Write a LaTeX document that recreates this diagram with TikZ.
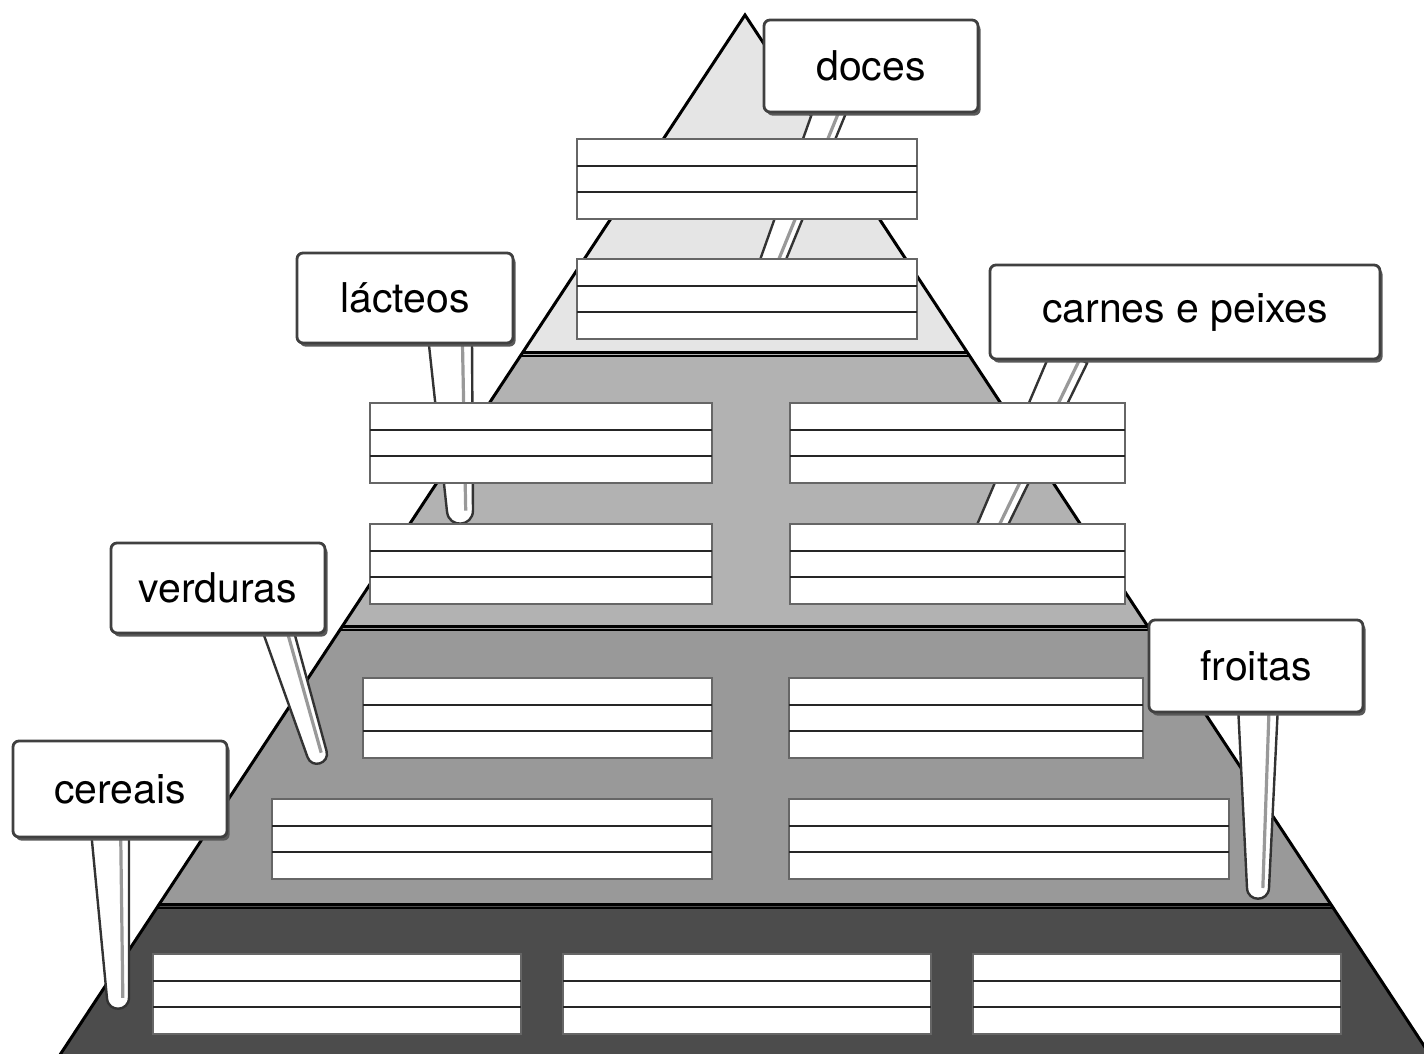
\documentclass[tikz,border=0pt]{standalone}
\usepackage{fontspec}
\setmainfont{TeX Gyre Heros}
\usetikzlibrary{calc,shadows}
\definecolor{tierA}{gray}{0.9}
\definecolor{tierB}{gray}{0.7}
\definecolor{tierC}{gray}{0.6}
\definecolor{tierD}{gray}{0.3}
\tikzset{
  signboard/.style={fill=white, draw=black!75, line width=1.4pt, rounded corners=3pt,
    minimum height=46pt, inner sep=0pt, font=\fontsize{20.5}{24}\selectfont,
    drop shadow={opacity=1, fill=black!65, shadow xshift=1.3pt, shadow yshift=-1.8pt}},
  rowbox/.style={draw=black!60, line width=0.8pt, fill=white},
  rowline/.style={draw=black!85, line width=0.6pt},
  stakeline/.style={draw=black!80, line width=1.2pt, fill=white, line join=round},
  stakeshade/.style={draw=black!40, line width=1.6pt}
}
% #1 name, #2 top, #3 bottom, #4 half width at top, #5 half width at bottom
\newcommand\stake[5]{
  \coordinate (#1-1) at ($(#2)!#4!90:(#3)$);
  \coordinate (#1-2) at ($(#3)!#5!-90:(#2)$);
  \coordinate (#1-3) at ($(#3)!#5!90:(#2)$);
  \coordinate (#1-4) at ($(#2)!#4!-90:(#3)$);
  \draw[stakeline] (#1-1) -- (#1-2) .. controls ($(#1-2)!-1.3*#5!(#1-1)$) and ($(#1-3)!-1.3*#5!(#1-4)$) .. (#1-3) -- (#1-4) -- cycle;
  \draw[stakeshade] ($(#1-1)!0.22!(#1-4)$) -- ($(#1-2)!0.28!(#1-3)$);
}
\begin{document}
\begin{tikzpicture}[x=0.5pt, y=-0.5pt]
    \useasboundingbox (0,0) rectangle (1424,1054);
    \coordinate (apex) at (745,15);
    \coordinate (baseL) at (50,1070);
    \coordinate (baseR) at (1440,1070);
    \begin{scope}
        \clip (apex) -- (baseL) -- (baseR) -- cycle;
        \fill[tierA] (0,0) rectangle (1440,352);
        \fill[tierB] (0,352) rectangle (1440,626);
        \fill[tierC] (0,626) rectangle (1440,904);
        \fill[tierD] (0,904) rectangle (1440,1070);
        \foreach \y in {352,626,904}
            {
                \draw[line width=1.5pt] (0,\y)--(1440,\y);
                \draw[line width=1pt] (0,\y+4)--(1440,\y+4);
            }
    \end{scope}
    \draw[line width=1.5pt, line join=miter] (baseL)--(apex)--(baseR);

    \stake{sdoces}{832,105}{772,262}{8pt}{6pt}
    \stake{slacteos}{450,335}{460,511}{11pt}{6.5pt}
    \stake{scarnes}{1070,355}{990,530}{9.5pt}{7pt}
    \stake{sverduras}{278,630}{317,754}{7.5pt}{5pt}
    \stake{sfroitas}{1258,705}{1258,888}{10pt}{5.5pt}
    \stake{scereais}{110,830}{118,998}{9.5pt}{5.5pt}

    \foreach \xa/\xb/\ya in {577/917/139, 577/917/259, 370/712/403, 790/1125/403,
        370/712/524, 790/1125/524, 363/712/678, 789/1143/678, 272/712/799,
        789/1229/799, 153/521/954, 563/931/954, 973/1341/954}
        {
            \draw[rowbox] (\xa,\ya) rectangle (\xb,\ya+80);
            \draw[rowline] (\xa,\ya+27)--(\xb,\ya+27) (\xa,\ya+53)--(\xb,\ya+53);
        }

    \node[signboard, minimum width=107pt, minimum height=46pt] (doces) at (871,66) {doces};
    \node[signboard, minimum width=108pt, minimum height=45pt] (lacteos) at (405,298) {lácteos};
    \node[signboard, minimum width=195pt, minimum height=47pt] (carnes) at (1185,312) {carnes e peixes};
    \node[signboard, minimum width=107pt, minimum height=45pt] (verduras) at (218,588) {verduras};
    \node[signboard, minimum width=107pt, minimum height=46pt] (froitas) at (1256,666) {froitas};
    \node[signboard, minimum width=107pt, minimum height=48pt] (cereais) at (120,789) {cereais};
\end{tikzpicture}
\end{document}
